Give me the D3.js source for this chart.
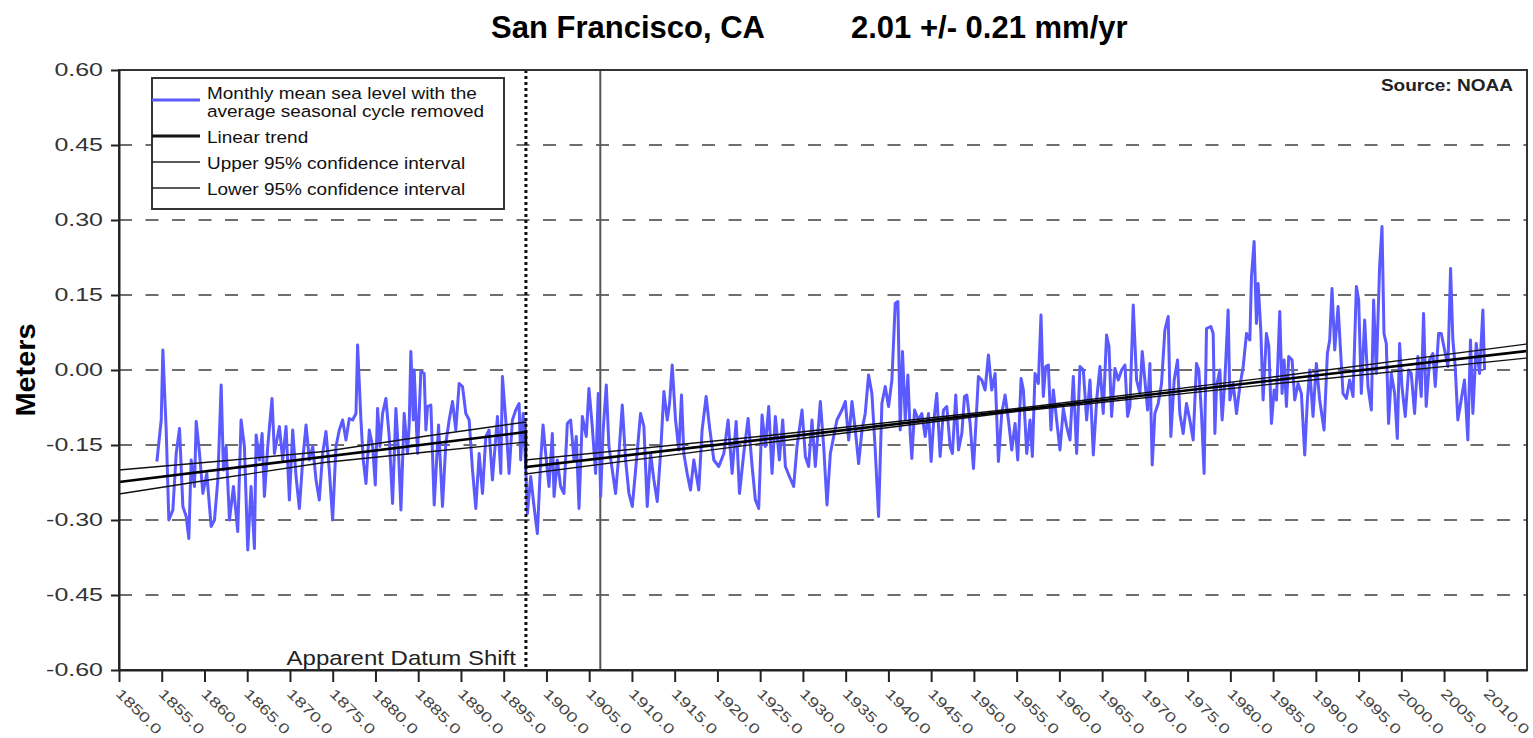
<!DOCTYPE html>
<html>
<head>
<meta charset="utf-8">
<script src="https://cdn.jsdelivr.net/npm/d3@7"></script>
<style>
  body { margin: 0; background: #fff; }
  svg { display: block; font-family: "Liberation Sans", Arial, sans-serif; }
</style>
</head>
<body>
<svg id="chart" width="1533" height="738"></svg>
<script>
// ---- data ----
const titleLeft = "San Francisco, CA";
const titleRight = "2.01 +/- 0.21 mm/yr";
const sourceText = "Source: NOAA";
const yLabel = "Meters";
const datumLabel = "Apparent Datum Shift";

const yTicks = [-0.60, -0.45, -0.30, -0.15, 0.00, 0.15, 0.30, 0.45, 0.60];
const xTicks = [1850, 1855, 1860, 1865, 1870, 1875, 1880, 1885, 1890, 1895, 1900,
  1905, 1910, 1915, 1920, 1925, 1930, 1935, 1940, 1945, 1950, 1955, 1960, 1965,
  1970, 1975, 1980, 1985, 1990, 1995, 2000, 2005, 2010];

const datumShiftYear = 1897.6;
const quakeYear = 1906.3;

const legendLabels = [
  ["Monthly mean sea level with the", "average seasonal cycle removed"],
  ["Linear trend"],
  ["Upper 95% confidence interval"],
  ["Lower 95% confidence interval"]
];

// monthly mean sea level, seasonal cycle removed [year, metres]
const mslA = [
  [1854.43,-0.183],[1854.94,-0.100],[1855.13,0.040],[1855.52,-0.120],[1855.83,-0.300],[1856.30,-0.280],
  [1856.69,-0.167],[1857.08,-0.117],[1857.47,-0.273],[1857.86,-0.293],[1858.17,-0.337],[1858.44,-0.180],
  [1858.83,-0.233],[1859.03,-0.103],[1859.42,-0.167],[1859.81,-0.247],[1860.27,-0.207],[1860.78,-0.313],
  [1861.17,-0.300],[1861.56,-0.220],[1861.95,-0.030],[1862.22,-0.200],[1862.53,-0.153],[1862.92,-0.300],
  [1863.39,-0.233],[1863.89,-0.323],[1864.28,-0.100],[1864.67,-0.153],[1865.06,-0.360],[1865.45,-0.233],
  [1865.84,-0.357],[1866.04,-0.130],[1866.43,-0.180],[1866.74,-0.127],[1867.01,-0.253],[1867.40,-0.153],
  [1867.90,-0.057],[1868.18,-0.167],[1868.76,-0.113],[1869.15,-0.180],[1869.54,-0.113],[1869.93,-0.260],
  [1870.32,-0.120],[1870.71,-0.213],[1871.10,-0.277],[1871.49,-0.180],[1871.88,-0.110],[1872.27,-0.180],
  [1872.66,-0.153],[1873.05,-0.220],[1873.43,-0.260],[1873.82,-0.167],[1874.21,-0.123],[1874.60,-0.200],
  [1874.99,-0.300],[1875.38,-0.153],[1875.77,-0.120],[1876.16,-0.100],[1876.55,-0.140],[1876.94,-0.097],
  [1877.33,-0.100],[1877.72,-0.087],[1877.91,0.050],[1878.30,-0.100],[1878.57,-0.180],[1878.89,-0.227],
  [1879.28,-0.120],[1879.67,-0.153],[1879.98,-0.230],[1880.25,-0.077],[1880.52,-0.153],[1880.83,-0.087],
  [1881.22,-0.057],[1881.61,-0.133],[1882.00,-0.267],[1882.39,-0.077],[1882.70,-0.167],[1882.98,-0.280],
  [1883.36,-0.087],[1883.75,-0.167],[1883.95,-0.107],[1884.14,0.037],[1884.42,-0.100],[1884.53,0.000],
  [1884.92,-0.167],[1885.31,-0.003],[1885.70,-0.007],[1885.90,-0.120],[1886.09,-0.073],[1886.48,-0.070],
  [1886.87,-0.270],[1887.38,-0.110],[1887.84,-0.273],[1888.23,-0.147],[1888.62,-0.100],[1889.01,-0.063],
  [1889.40,-0.120],[1889.79,-0.027],[1890.18,-0.033],[1890.57,-0.087],[1890.96,-0.100],[1891.35,-0.200],
  [1891.74,-0.277],[1892.13,-0.167],[1892.52,-0.247],[1892.91,-0.133],[1893.29,-0.120],[1893.68,-0.220],
  [1894.27,-0.093],[1894.66,-0.207],[1894.85,-0.013],[1895.24,-0.100],[1895.63,-0.207],[1896.02,-0.100],
  [1896.41,-0.080],[1896.80,-0.067],[1896.99,-0.180],[1897.27,-0.087]
];
const mslB = [
  [1897.57,-0.193],[1897.77,-0.287],[1898.16,-0.213],[1898.55,-0.273],[1898.94,-0.327],[1899.33,-0.180],
  [1899.60,-0.110],[1899.91,-0.167],[1900.30,-0.233],[1900.69,-0.127],[1900.89,-0.253],[1901.27,-0.180],
  [1901.66,-0.233],[1902.05,-0.247],[1902.44,-0.107],[1902.83,-0.100],[1903.22,-0.180],[1903.49,-0.133],
  [1903.81,-0.277],[1904.20,-0.093],[1904.66,-0.133],[1904.97,-0.037],[1905.36,-0.113],[1905.75,-0.207],
  [1906.06,-0.047],[1906.34,-0.253],[1906.61,-0.127],[1907.00,-0.030],[1907.31,-0.153],[1907.70,-0.200],
  [1908.09,-0.247],[1908.48,-0.167],[1908.87,-0.070],[1909.26,-0.180],[1909.65,-0.247],[1910.04,-0.273],
  [1910.43,-0.200],[1911.01,-0.087],[1911.40,-0.113],[1911.79,-0.273],[1912.18,-0.167],[1912.57,-0.220],
  [1912.96,-0.263],[1913.35,-0.167],[1913.74,-0.043],[1914.13,-0.100],[1914.40,-0.067],[1914.71,0.010],
  [1915.10,-0.100],[1915.49,-0.160],[1915.80,-0.050],[1916.07,-0.167],[1916.46,-0.207],[1916.85,-0.240],
  [1917.24,-0.180],[1917.82,-0.240],[1918.21,-0.120],[1918.68,-0.053],[1919.07,-0.113],[1919.58,-0.180],
  [1920.16,-0.193],[1920.75,-0.167],[1921.25,-0.100],[1921.72,-0.207],[1922.19,-0.103],[1922.58,-0.247],
  [1923.08,-0.167],[1923.59,-0.097],[1924.06,-0.193],[1924.44,-0.260],[1924.83,-0.277],[1925.22,-0.090],
  [1925.61,-0.153],[1926.00,-0.073],[1926.39,-0.207],[1926.78,-0.093],[1927.25,-0.180],[1927.64,-0.100],
  [1927.95,-0.193],[1928.42,-0.213],[1928.92,-0.233],[1929.31,-0.153],[1929.90,-0.080],[1930.29,-0.173],
  [1930.67,-0.193],[1931.06,-0.100],[1931.45,-0.193],[1932.04,-0.063],[1932.43,-0.153],[1932.82,-0.270],
  [1933.21,-0.167],[1933.60,-0.133],[1933.98,-0.100],[1934.57,-0.080],[1934.96,-0.063],[1935.35,-0.140],
  [1935.74,-0.063],[1936.13,-0.120],[1936.52,-0.187],[1936.91,-0.120],[1937.29,-0.087],[1937.68,-0.010],
  [1938.07,-0.047],[1938.46,-0.160],[1938.85,-0.293]
];
const mslC = [
  [1939.24,-0.067],[1939.63,-0.033],[1940.02,-0.073],[1940.41,-0.020],[1940.80,0.133],[1941.11,0.137],
  [1941.38,-0.120],[1941.65,0.037],[1941.97,-0.100],[1942.28,-0.010],[1942.55,-0.127],[1942.74,-0.177],
  [1943.06,-0.080],[1943.52,-0.100],[1943.91,-0.087],[1944.30,-0.133],[1944.69,-0.087],[1945.00,-0.183],
  [1945.28,-0.107],[1945.66,-0.047],[1946.05,-0.173],[1946.44,-0.080],[1946.83,-0.073],[1947.22,-0.153],
  [1947.49,-0.167],[1947.88,-0.050],[1948.20,-0.160],[1948.59,-0.127],[1948.90,-0.053],[1949.17,-0.050],
  [1949.56,-0.107],[1949.95,-0.197],[1950.22,-0.113],[1950.53,-0.013],[1950.92,-0.020],[1951.31,-0.040],
  [1951.70,0.030],[1952.09,-0.040],[1952.48,-0.007],[1952.87,-0.183],[1953.26,-0.087],[1953.65,-0.050],
  [1954.04,-0.100],[1954.43,-0.160],[1954.82,-0.107],[1955.13,-0.180],[1955.52,-0.017],[1955.79,-0.040],
  [1956.18,-0.167],[1956.57,-0.100],[1956.84,-0.173],[1957.15,-0.007],[1957.54,-0.027],[1957.85,0.110],
  [1958.12,-0.053],[1958.40,0.007],[1958.71,0.010],[1959.02,-0.120],[1959.29,-0.040],[1959.68,-0.100],
  [1960.07,-0.160],[1960.46,-0.077],[1960.85,-0.113],[1961.24,-0.140],[1961.63,-0.013],[1962.02,-0.167],
  [1962.41,0.007],[1962.80,0.000],[1963.19,-0.100],[1963.58,-0.020],[1963.97,-0.170],[1964.36,-0.060],
  [1964.75,0.007],[1965.13,-0.087],[1965.52,0.070],[1965.80,0.047],[1966.11,-0.093],[1966.50,0.003],
  [1966.89,-0.020],[1967.28,0.000],[1967.67,0.010],[1967.98,-0.093],[1968.25,-0.073],[1968.64,0.130],
  [1969.03,-0.020],[1969.42,-0.047],[1969.69,0.037],[1970.00,-0.020],[1970.32,-0.080],[1970.59,0.013],
  [1970.86,-0.190],[1971.17,-0.087],[1971.56,-0.067],[1971.95,-0.027],[1972.34,0.080],[1972.73,0.107],
  [1973.04,-0.133],[1973.43,-0.020],[1973.82,0.020],[1974.09,-0.087],[1974.48,-0.127],[1974.87,-0.067],
  [1975.26,-0.100],[1975.65,-0.140],[1976.04,0.013],[1976.31,0.000],[1976.62,-0.087],[1976.93,-0.207],
  [1977.21,0.083]
];
const mslD = [
  [1977.72,0.087],[1977.99,0.073],[1978.19,-0.127],[1978.38,-0.033],[1978.77,0.000],[1979.04,-0.100],
  [1979.36,-0.020],[1979.74,0.120],[1979.94,-0.060],[1980.33,-0.027],[1980.72,-0.087],[1981.11,-0.033],
  [1981.50,0.007],[1981.89,0.073],[1982.28,0.060],[1982.47,0.187],[1982.78,0.257],[1983.05,0.093],
  [1983.25,0.173],[1983.56,0.080],[1983.83,-0.060],[1984.22,0.073],[1984.50,0.047],[1984.81,-0.107],
  [1985.12,-0.040],[1985.39,-0.060],[1985.78,0.117],[1986.05,-0.047],[1986.29,0.020],[1986.56,-0.073],
  [1986.83,0.027],[1987.22,0.020],[1987.53,-0.060],[1987.92,-0.027],[1988.31,-0.047],[1988.70,-0.170],
  [1989.01,-0.060],[1989.29,0.000],[1989.67,-0.093],[1990.06,0.013],[1990.45,-0.060],[1990.96,-0.120],
  [1991.35,0.033],[1991.62,0.060],[1991.89,0.163],[1992.21,0.040],[1992.60,0.127],[1992.91,0.033],
  [1993.18,-0.047],[1993.57,-0.057],[1993.96,-0.020],[1994.35,-0.053],[1994.74,0.167],[1995.01,0.140],
  [1995.32,-0.047],[1995.71,0.100],[1996.10,-0.033],[1996.49,-0.080],[1996.76,0.140],[1997.07,-0.007],
  [1997.46,0.207],[1997.74,0.287],[1997.97,0.073],[1998.24,0.053],[1998.51,-0.107],[1998.83,-0.007],
  [1999.22,-0.047],[1999.53,-0.137],[1999.80,0.053],[2000.07,-0.033],[2000.46,-0.093],[2000.85,0.000],
  [2001.16,-0.007],[2001.55,-0.087],[2001.94,0.027],[2002.33,-0.053],[2002.60,0.113],[2002.91,-0.073],
  [2003.30,0.020],[2003.69,0.033],[2003.97,-0.033],[2004.36,0.073],[2004.67,0.073],[2005.06,0.040],
  [2005.45,0.007],[2005.76,0.203],[2006.03,0.060],[2006.30,0.007],[2006.61,-0.100],[2007.00,-0.060],
  [2007.39,-0.020],[2007.78,-0.140],[2008.09,0.060],[2008.37,-0.087],[2008.76,0.053],[2009.15,-0.007],
  [2009.54,0.120],[2009.73,0.000]
];

// linear trend and 95% confidence limits, split at the datum shift
const trendLine = [[1850,-0.224],[1897.6,-0.124],[1897.6,-0.194],[2014.7,0.038]];
const upperCI = [[1850,-0.200],[1862,-0.182],[1874,-0.163],[1886,-0.132],[1897.6,-0.104],
  [1897.6,-0.180],[1926,-0.131],[1955,-0.077],[1985,-0.014],[2014.7,0.052]];
const lowerCI = [[1850,-0.248],[1862,-0.216],[1874,-0.185],[1886,-0.164],[1897.6,-0.144],
  [1897.6,-0.208],[1926,-0.145],[1955,-0.083],[1985,-0.028],[2014.7,0.024]];

// ---- drawing ----
const svg = d3.select("#chart");
const blue = "#5a5aff";

const x = d3.scaleLinear().domain([1850, 2014.7]).range([119, 1527]);
const y = d3.scaleLinear().domain([-0.6, 0.6]).range([670, 70]);

// dashed grid
svg.append("g")
  .selectAll("line")
  .data(yTicks.filter(d => Math.abs(d) < 0.6))
  .enter().append("line")
  .attr("x1", x.range()[0]).attr("x2", x.range()[1])
  .attr("y1", d => y(d)).attr("y2", d => y(d))
  .attr("stroke", "#6e6e6e")
  .attr("stroke-width", 2)
  .attr("stroke-dasharray", "13,13.5");

// 1906 marker
svg.append("line")
  .attr("x1", x(quakeYear)).attr("x2", x(quakeYear))
  .attr("y1", y(0.6)).attr("y2", y(-0.6))
  .attr("stroke", "#555").attr("stroke-width", 2);

const line = d3.line().x(d => x(d[0])).y(d => y(d[1]));
const msl = mslA.concat(mslB, mslC, mslD);

svg.append("path")
  .datum(msl)
  .attr("fill", "none")
  .attr("stroke", blue)
  .attr("stroke-width", 3)
  .attr("stroke-linejoin", "round")
  .attr("d", line);

// datum shift (dotted)
svg.append("line")
  .attr("x1", x(datumShiftYear)).attr("x2", x(datumShiftYear))
  .attr("y1", y(0.6)).attr("y2", y(-0.6))
  .attr("stroke", "#111").attr("stroke-width", 3)
  .attr("stroke-dasharray", "3,3");

svg.append("path").datum(upperCI)
  .attr("fill", "none").attr("stroke", "#111").attr("stroke-width", 1.3).attr("d", line);
svg.append("path").datum(lowerCI)
  .attr("fill", "none").attr("stroke", "#111").attr("stroke-width", 1.3).attr("d", line);
svg.append("path").datum(trendLine)
  .attr("fill", "none").attr("stroke", "#000").attr("stroke-width", 2.6).attr("d", line);

// frame
svg.append("rect")
  .attr("x", 119).attr("y", 70).attr("width", 1527 - 119).attr("height", 600)
  .attr("fill", "none").attr("stroke", "#333").attr("stroke-width", 2);

// axes
const tickStretch = 1.35;
const yAxis = svg.append("g")
  .attr("transform", "translate(119,0)")
  .call(d3.axisLeft(y).tickValues(yTicks).tickFormat(d => d.toFixed(2)).tickSize(8).tickSizeOuter(0));
yAxis.selectAll("text")
  .attr("x", -16 / tickStretch)
  .attr("transform", `scale(${tickStretch},1)`)
  .attr("fill", "#333")
  .style("font-size", "18.5px");

const xAxis = svg.append("g")
  .attr("transform", "translate(0,670)")
  .call(d3.axisBottom(x).tickValues(xTicks).tickFormat(d => d.toFixed(1)).tickSize(12).tickSizeOuter(0));
xAxis.selectAll("text")
  .attr("x", 0).attr("y", 0).attr("dy", "0.35em")
  .attr("text-anchor", "start")
  .attr("transform", `translate(-1,21) rotate(45) scale(${tickStretch},1)`)
  .attr("fill", "#444")
  .style("font-size", "14px");

[yAxis, xAxis].forEach(a => {
  a.select(".domain").attr("stroke", "#222").attr("stroke-width", 2);
  a.selectAll(".tick line").attr("stroke", "#222").attr("stroke-width", 2);
});

// legend
const lg = svg.append("g");
lg.append("rect")
  .attr("x", 152).attr("y", 78).attr("width", 352).attr("height", 131)
  .attr("fill", "#fff").attr("stroke", "#333").attr("stroke-width", 2);
const legendRows = [
  { y: 100, stroke: blue, w: 3, text: 99 },
  { y: 136, stroke: "#111", w: 3, text: 143 },
  { y: 162, stroke: "#222", w: 1.3, text: 169 },
  { y: 188, stroke: "#222", w: 1.3, text: 195 }
];
legendRows.forEach((r, i) => {
  lg.append("line")
    .attr("x1", 152).attr("x2", 200).attr("y1", r.y).attr("y2", r.y)
    .attr("stroke", r.stroke).attr("stroke-width", r.w);
  legendLabels[i].forEach((t, j) => {
    lg.append("text")
      .attr("transform", `translate(207,${r.text + j * 18}) scale(1.15,1)`)
      .attr("fill", "#111")
      .style("font-size", "16.5px")
      .text(t);
  });
});

// titles and notes
svg.append("text")
  .attr("x", 491).attr("y", 38)
  .style("font-size", "31px").style("font-weight", "bold")
  .text(titleLeft);
svg.append("text")
  .attr("x", 851).attr("y", 38)
  .style("font-size", "31px").style("font-weight", "bold")
  .text(titleRight);

svg.append("text")
  .attr("transform", "translate(1513,91) scale(1.12,1)")
  .attr("text-anchor", "end")
  .attr("fill", "#222")
  .style("font-size", "17px").style("font-weight", "bold")
  .text(sourceText);

svg.append("text")
  .attr("transform", `translate(${x(datumShiftYear) - 10},665) scale(1.2,1)`)
  .attr("text-anchor", "end")
  .attr("fill", "#222")
  .style("font-size", "20px")
  .text(datumLabel);

svg.append("text")
  .attr("transform", "translate(35,370) rotate(-90) scale(1.07,1)")
  .attr("text-anchor", "middle")
  .style("font-size", "27px").style("font-weight", "bold")
  .text(yLabel);
</script>
</body>
</html>
